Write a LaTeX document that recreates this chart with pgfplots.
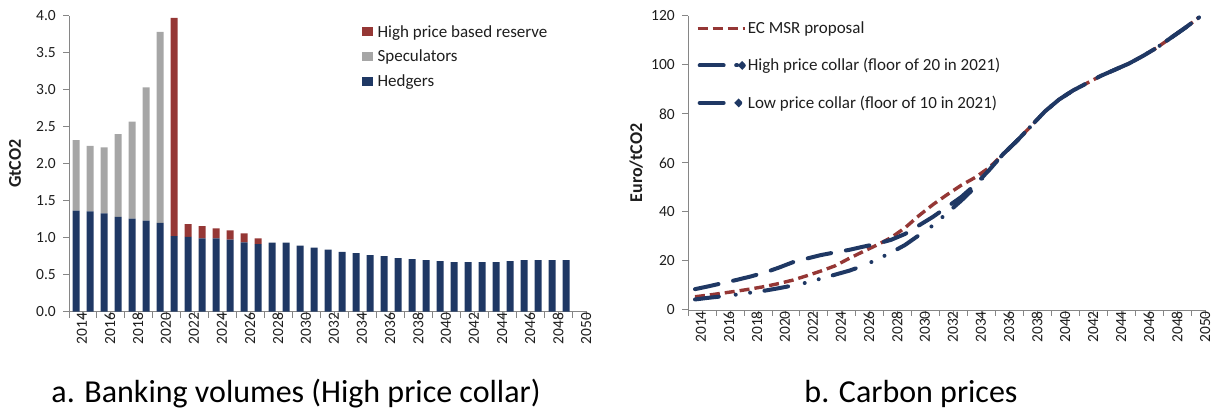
\documentclass[border=0pt]{standalone}
\usepackage{fontspec}
\setmainfont{Carlito}
\usepackage{pgfplots}
\usepackage{pgfplotstable}
\pgfplotsset{compat=1.18}
\definecolor{hedg}{RGB}{31,56,100}
\definecolor{spec}{RGB}{166,166,166}
\definecolor{resv}{RGB}{149,55,53}
\definecolor{axgray}{RGB}{134,134,134}
\definecolor{txt}{RGB}{30,30,30}

\pgfplotstableread{
year hedg spec resv
2014 1.365 0.955 0
2015 1.355 0.885 0
2016 1.330 0.890 0
2017 1.280 1.120 0
2018 1.257 1.313 0
2019 1.230 1.800 0
2020 1.200 2.580 0
2021 1.020 0 2.950
2022 1.010 0 0.175
2023 0.990 0 0.168
2024 0.990 0 0.136
2025 0.975 0 0.125
2026 0.937 0 0.123
2027 0.914 0 0.076
2028 0.935 0 0
2029 0.935 0 0
2030 0.892 0 0
2031 0.865 0 0
2032 0.838 0 0
2033 0.810 0 0
2034 0.793 0 0
2035 0.766 0 0
2036 0.752 0 0
2037 0.725 0 0
2038 0.712 0 0
2039 0.698 0 0
2040 0.685 0 0
2041 0.671 0 0
2042 0.671 0 0
2043 0.671 0 0
2044 0.671 0 0
2045 0.685 0 0
2046 0.698 0 0
2047 0.698 0 0
2048 0.698 0 0
2049 0.698 0 0
}\bankdata

\pgfplotstableread{
year ec high low
2014 5.4 8.5 4.3
2015 6.1 9.7 5.0
2016 6.9 11.0 5.6
2017 7.7 12.3 6.3
2018 8.6 13.7 7.1
2019 9.6 15.3 7.9
2020 10.8 17.3 8.9
2021 12.2 19.5 10.0
2022 14.0 21.0 11.2
2023 15.9 22.4 12.8
2024 18.0 23.5 14.4
2025 21.0 24.5 16.0
2026 23.8 25.8 18.0
2027 26.5 27.0 20.6
2028 29.5 28.6 23.4
2029 33.5 31.0 26.5
2030 38.5 34.5 30.5
2031 43.0 38.0 34.5
2032 47.0 42.0 39.5
2033 50.8 46.0 44.5
2034 54.0 51.0 50.0
2035 58.0 57.0 57.0
2036 63.5 63.5 63.5
2037 69.0 69.0 69.0
2038 75.0 75.0 75.0
2039 81.0 81.0 81.0
2040 85.8 85.8 85.8
2041 89.5 89.5 89.5
2042 92.5 92.5 92.5
2043 95.5 95.5 95.5
2044 98.0 98.0 98.0
2045 100.5 100.5 100.5
2046 103.6 103.6 103.6
2047 107.0 107.0 107.0
2048 111.0 111.0 111.0
2049 115.0 115.0 115.0
2050 119.3 119.3 119.3
}\pricedata

\newcommand{\ticksize}{\fontsize{15.5}{15.5}\selectfont}
\newcommand{\legsize}{\fontsize{17}{17}\selectfont}

\pgfplotsset{
  common/.style={
    scale only axis,
    axis x line*=bottom, axis y line*=left,
    xtick pos=left, ytick pos=left,
    axis line style={axgray, line width=0.9pt},
    xmin=2013.5, xmax=2050.5,
    xtick={2013.5,2014.5,...,2050.5},
    xticklabels={},
    extra x ticks={2014,2016,...,2050},
    extra x tick style={major tick length=0pt},
    extra x tick labels={2014,2016,2018,2020,2022,2024,2026,2028,2030,2032,2034,2036,2038,2040,2042,2044,2046,2048,2050},
    major tick length=6pt,
    tick align=outside,
    xtick style={draw=axgray, line width=1pt},
    ytick style={draw=axgray, line width=1pt},
    xticklabel style={rotate=90, anchor=east, font=\ticksize, text=txt, inner sep=1pt, yshift=-6pt},
    yticklabel style={font=\ticksize, text=txt, inner sep=1pt, xshift=-6pt},
    /pgf/number format/assume math mode=true,
    ylabel style={font=\bfseries\fontsize{18}{18}\selectfont, text=txt, rotate=0, anchor=center},
    legend style={draw=none, fill=none, inner sep=0pt, font=\legsize, text=txt},
    legend cell align=left,
  }
}

\begin{document}
\begin{tikzpicture}
\useasboundingbox (0pt,0pt) rectangle (1213pt,412pt);

% ---------------- left: banking volumes
\begin{axis}[common,
  at={(69pt,100.3pt)}, anchor=south west,
  width=518pt, height=296pt,
  ymin=0, ymax=4,
  ytick={0,0.5,...,4},
  yticklabel style={/pgf/number format/.cd, fixed, fixed zerofill, precision=1},
  ylabel={GtCO2},
  ylabel style={at={(axis description cs:-0.104,0.5)}},
  ybar stacked, bar width=7pt,
  legend style={at={(axis description cs:0.5645,0.975)}, anchor=north west,
    /tikz/every odd column/.append style={column sep=3pt},
    row sep=7.5pt},
  reverse legend,
  legend image code/.code={\fill[#1] (0pt,-4.5pt) rectangle (11pt,4.5pt);},
]
\addplot[draw=none, fill=hedg] table[x=year, y=hedg] {\bankdata};
\addplot[draw=none, fill=spec] table[x=year, y=spec] {\bankdata};
\addplot[draw=none, fill=resv] table[x=year, y=resv] {\bankdata};
\legend{Hedgers, Speculators, High price based reserve}
\end{axis}

% ---------------- right: carbon prices
\begin{axis}[common,
  at={(688pt,102pt)}, anchor=south west,
  width=518pt, height=294.3pt,
  ymin=0, ymax=120,
  ytick={0,20,...,120},
  ylabel={Euro/tCO2},
  ylabel style={at={(axis description cs:-0.1,0.5)}},
  legend style={at={(axis description cs:0.015,0.987)}, anchor=north west,
    nodes={inner xsep=1.5pt},
    /tikz/every odd column/.append style={column sep=0pt},
    row sep=19.5pt},
]
\addplot[resv, line width=3.4pt, dash pattern=on 10pt off 5pt,
  legend image code/.code={\draw[resv, line width=3.4pt, dash pattern=on 10pt off 5pt] (0pt,0pt) -- (47pt,0pt);}]
  table[x=year, y=ec] {\pricedata};
\addplot[hedg, line width=4pt, line cap=round, dash pattern=on 24pt off 15pt,
  legend image code/.code={\draw[hedg, line width=4pt, line cap=round] (2pt,0pt) -- (28pt,0pt); \draw[hedg, line width=4pt, line cap=round] (38.5pt,0pt) -- (39.5pt,0pt); \fill[hedg] (44.5pt,0pt) circle (1.6pt);}]
  table[x=year, y=high] {\pricedata};
\addplot[hedg, line width=4pt, line cap=round, dash pattern=on 24pt off 17pt on 0pt off 14.5pt on 0pt off 14.5pt,
  legend image code/.code={\draw[hedg, line width=4pt, line cap=round] (2pt,0pt) -- (28pt,0pt); \fill[hedg] (41pt,0pt) circle (1.6pt);}]
  table[x=year, y=low] {\pricedata};
\legend{EC MSR proposal, High price collar (floor of 20 in 2021), Low price collar (floor of 10 in 2021)}
\end{axis}

\node[font=\fontsize{32}{32}\selectfont, text=black] at (296pt,18pt) {a. Banking volumes (High price collar)};
\node[font=\fontsize{32}{32}\selectfont, text=black] at (911pt,18pt) {b. Carbon prices};
\end{tikzpicture}
\end{document}
